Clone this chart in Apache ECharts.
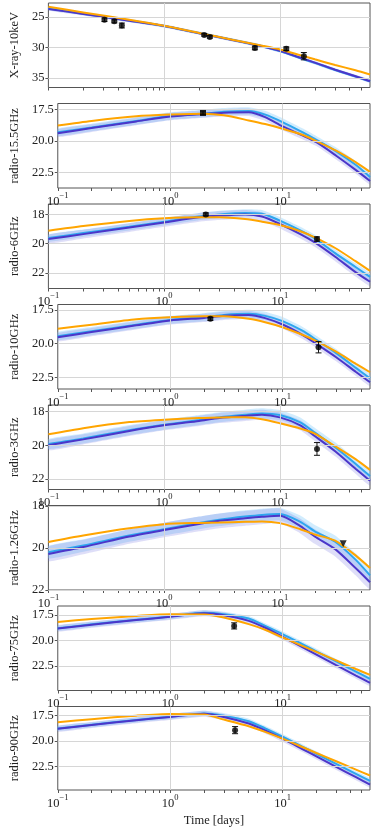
<!DOCTYPE html>
<html>
<head>
<meta charset="utf-8">
<script src="https://cdn.jsdelivr.net/npm/echarts@6/dist/echarts.min.js"></script>
<style>
  html, body { margin: 0; padding: 0; background: #fff; }
  #chart { width: 374px; height: 828px; }
</style>
</head>
<body>
<div id="chart"></div>
<script>
// model times [days]
var T = [0.1, 0.2, 0.5, 1, 2, 3, 5, 7, 10, 15, 20, 30, 45, 60];

// model light curves (mag), one value per entry of T
var xrayOrange = [23.33, 24.25, 25.45, 26.45, 27.62, 28.3, 29.17, 29.72, 30.34, 31.28, 31.96, 32.9, 33.77, 34.45];
var xrayCyan   = [23.62, 24.45, 25.58, 26.47, 27.64, 28.32, 29.2, 29.8, 30.6, 31.75, 32.55, 33.72, 34.8, 35.6];
var xrayBlue   = [23.67, 24.5, 25.62, 26.5, 27.67, 28.35, 29.22, 29.8, 30.57, 31.7, 32.5, 33.67, 34.76, 35.57];

var r155Orange = [18.76, 18.4, 18.03, 17.9, 17.83, 17.96, 18.36, 18.65, 19.02, 19.5, 20.0, 20.76, 21.69, 22.44];
var r155Cyan   = [19.3, 18.92, 18.4, 18.02, 17.82, 17.68, 17.62, 17.9, 18.49, 19.29, 19.9, 20.81, 21.9, 22.84];
var r155Blue   = [19.37, 18.97, 18.44, 18.05, 17.85, 17.75, 17.72, 18.1, 18.84, 19.55, 20.09, 21.16, 22.3, 23.16];

var r6Orange = [19.12, 18.8, 18.45, 18.27, 18.2, 18.2, 18.32, 18.5, 18.73, 19.15, 19.57, 20.3, 21.2, 21.86];
var r6Cyan   = [19.62, 19.28, 18.85, 18.5, 18.15, 18.0, 17.9, 17.95, 18.43, 19.1, 19.64, 20.65, 21.6, 22.27];
var r6Blue   = [19.69, 19.35, 18.9, 18.55, 18.2, 18.08, 18.0, 18.15, 18.66, 19.35, 19.92, 20.9, 21.95, 22.61];

var r10Orange = [18.91, 18.6, 18.2, 18.05, 17.97, 17.98, 18.17, 18.42, 18.79, 19.35, 19.82, 20.6, 21.5, 22.12];
var r10Cyan   = [19.45, 19.08, 18.6, 18.25, 18.05, 17.88, 17.8, 17.95, 18.34, 19.05, 19.72, 20.71, 21.8, 22.57];
var r10Blue   = [19.53, 19.15, 18.65, 18.29, 18.1, 17.95, 17.88, 18.12, 18.59, 19.35, 20.02, 21.01, 22.1, 22.86];

var r3Orange = [19.35, 18.98, 18.62, 18.48, 18.38, 18.34, 18.33, 18.45, 18.69, 19.0, 19.31, 20.06, 20.83, 21.47];
var r3Cyan   = [19.93, 19.6, 19.1, 18.78, 18.5, 18.33, 18.18, 18.1, 18.2, 18.64, 19.25, 20.12, 21.1, 21.84];
var r3Blue   = [20.0, 19.65, 19.15, 18.81, 18.55, 18.38, 18.25, 18.18, 18.34, 18.81, 19.45, 20.36, 21.4, 22.12];

var r126Orange = [19.71, 19.4, 19.05, 18.86, 18.8, 18.78, 18.75, 18.73, 18.81, 19.1, 19.35, 19.65, 20.35, 20.95];
var r126Cyan   = [20.2, 19.88, 19.4, 19.1, 18.8, 18.65, 18.5, 18.42, 18.38, 18.75, 19.2, 19.7, 20.55, 21.3];
var r126Blue   = [20.28, 19.95, 19.45, 19.14, 18.85, 18.7, 18.58, 18.51, 18.46, 18.95, 19.45, 20.05, 20.95, 21.63];

var r75Orange = [18.18, 17.9, 17.6, 17.43, 17.45, 17.75, 18.4, 18.95, 19.7, 20.52, 21.11, 21.94, 22.77, 23.35];
var r75Cyan   = [18.8, 18.42, 17.98, 17.66, 17.3, 17.43, 17.85, 18.57, 19.37, 20.35, 21.05, 22.04, 23.02, 23.74];
var r75Blue   = [18.82, 18.45, 18.0, 17.69, 17.34, 17.53, 18.08, 18.75, 19.63, 20.65, 21.37, 22.4, 23.42, 24.13];

var r90Orange = [18.15, 17.85, 17.5, 17.33, 17.4, 17.89, 18.54, 19.1, 19.77, 20.59, 21.18, 22.0, 22.82, 23.4];
var r90Cyan   = [18.76, 18.4, 17.92, 17.6, 17.28, 17.5, 18.05, 18.75, 19.57, 20.56, 21.26, 22.25, 23.24, 23.94];
var r90Blue   = [18.79, 18.42, 17.95, 17.63, 17.31, 17.63, 18.28, 18.95, 19.77, 20.79, 21.52, 22.55, 23.57, 24.3];

// half width of the posterior bands [cyan, blue] per panel (mag)
var bandHalfWidth = [[0.25, 0.25], [0.3, 0.3], [0.25, 0.3], [0.3, 0.3], [0.3, 0.3], [0.3, 0.35], [0.25, 0.3], [0.25, 0.3]];

// observations: [time, mag, error]
var xrayObs = [[0.305, 25.45, 0.3], [0.371, 25.72, 0.25], [0.431, 26.4, 0.4], [2.22, 27.95, 0.2],
               [2.48, 28.28, 0.2], [6.08, 30.1, 0.3], [11.35, 30.22, 0.3], [16.1, 31.45, 0.6]];
var r155Obs = [[1.96, 17.77, 0.15]];
var r6Obs   = [[2.29, 18.0, 0.1], [20.9, 19.69, 0.15]];
var r10Obs  = [[2.28, 18.17, 0.12], [20.9, 20.27, 0.42]];
var r3Obs   = [[20.9, 20.22, 0.38]];
var r126Obs = [[35.2, 19.8, 0]];
var r75Obs  = [[3.71, 18.57, 0.3]];
var r90Obs  = [[3.78, 18.93, 0.35]];

// axis ticks
var xLabelTicks = [0.1, 1, 10];
var xMinorTicks = [0.1, 0.2, 0.3, 0.4, 0.5, 0.6, 0.7, 0.8, 0.9, 1, 2, 3, 4, 5, 6, 7, 8, 9, 10, 20, 30, 40, 50];

var panels = [
  {name: 'X-ray-10keV',   min: 22.7,  max: 36.6,  ticks: [25, 30, 35],       dec: 0, o: xrayOrange, c: xrayCyan, b: xrayBlue, obs: xrayObs, sym: 'circle'},
  {name: 'radio-15.5GHz', min: 17.02, max: 23.72, ticks: [17.5, 20, 22.5],   dec: 1, o: r155Orange, c: r155Cyan, b: r155Blue, obs: r155Obs, sym: 'rect'},
  {name: 'radio-6GHz',    min: 17.29, max: 23.07, ticks: [18, 20, 22],       dec: 0, o: r6Orange, c: r6Cyan, b: r6Blue, obs: r6Obs, sym: 'circle'},
  {name: 'radio-10GHz',   min: 17.11, max: 23.36, ticks: [17.5, 20, 22.5],   dec: 1, o: r10Orange, c: r10Cyan, b: r10Blue, obs: r10Obs, sym: 'circle'},
  {name: 'radio-3GHz',    min: 17.6,  max: 22.64, ticks: [18, 20, 22],       dec: 0, o: r3Orange, c: r3Cyan, b: r3Blue, obs: r3Obs, sym: 'circle'},
  {name: 'radio-1.26GHz', min: 17.97, max: 22.0,  ticks: [18, 20, 22],       dec: 0, o: r126Orange, c: r126Cyan, b: r126Blue, obs: r126Obs, sym: 'triangle'},
  {name: 'radio-75GHz',   min: 16.63, max: 24.87, ticks: [17.5, 20, 22.5],   dec: 1, o: r75Orange, c: r75Cyan, b: r75Blue, obs: r75Obs, sym: 'circle'},
  {name: 'radio-90GHz',   min: 16.6,  max: 24.83, ticks: [17.5, 20, 22.5],   dec: 1, o: r90Orange, c: r90Cyan, b: r90Blue, obs: r90Obs, sym: 'circle'}
];

var FONT = "'Liberation Serif', 'DejaVu Serif', serif";
var ORANGE = '#ffa500', CYAN = '#2ea6ee', BLUE = '#4b36c9';
var FRAME = '#555555', GRIDC = '#d6d6d6';
var SMOOTH = 0.25;

var grids = [], xAxes = [], yAxes = [], series = [];

function pairs(vals) {
  return T.map(function (t, k) { return [t, vals[k]]; });
}

// band drawn as one polygon through the axis scales
function bandSeries(i, vals, w, color) {
  return {
    type: 'custom', xAxisIndex: i, yAxisIndex: i, z: 1, silent: true, clip: true,
    data: [[T[0], vals[0]]],
    encode: {x: 0, y: 1},
    renderItem: function (params, api) {
      var up = T.map(function (t, k) { return api.coord([t, vals[k] - w]); });
      var lo = T.map(function (t, k) { return api.coord([t, vals[k] + w]); }).reverse();
      return {type: 'polygon', shape: {points: up.concat(lo), smooth: 0.15}, style: {fill: color}};
    }
  };
}

panels.forEach(function (p, i) {
  var top = 3 + i * 100.5;
  grids.push({left: 44, right: 4, top: top, height: 84.5, show: true, borderColor: FRAME, borderWidth: 1, backgroundColor: 'transparent'});

  xAxes.push({
    type: 'log', logBase: 10, gridIndex: i, min: 0.1, max: 60,
    axisLine: {show: false},
    splitLine: {show: false},
    axisTick: {show: true, length: 3, customValues: xMinorTicks, lineStyle: {color: FRAME}},
    axisLabel: {
      show: i > 0, margin: 3, customValues: xLabelTicks,
      formatter: function (v) {
        var e = Math.round(Math.log10(v));
        return '{b|10}{s|' + (e < 0 ? '\u2212' + (-e) : e) + '}';
      },
      rich: {
        b: {fontFamily: FONT, fontSize: 12.5, color: '#222', lineHeight: 17, verticalAlign: 'bottom'},
        s: {fontFamily: FONT, fontSize: 8.5, color: '#222', lineHeight: 10, verticalAlign: 'top'}
      }
    },
    name: i === 7 ? 'Time [days]' : '',
    nameLocation: 'middle', nameGap: 24,
    nameTextStyle: {fontFamily: FONT, fontSize: 12.5, color: '#222'}
  });

  yAxes.push({
    type: 'value', gridIndex: i, inverse: true, min: p.min, max: p.max,
    axisLine: {show: false},
    splitLine: {show: false},
    axisTick: {show: true, length: 3, customValues: p.ticks, lineStyle: {color: FRAME}},
    axisLabel: {
      customValues: p.ticks, margin: 4, fontFamily: FONT, fontSize: 12.5, color: '#222',
      formatter: (function (d) { return function (v) { return v.toFixed(d); }; })(p.dec)
    },
    name: p.name, nameLocation: 'middle', nameRotate: 90, nameGap: 27,
    nameTextStyle: {fontFamily: FONT, fontSize: 12.5, color: '#222'}
  });

  var ax = {xAxisIndex: i, yAxisIndex: i};

  // grid lines
  var gl = [{xAxis: 1}, {xAxis: 10}].concat(p.ticks.map(function (v) { return {yAxis: v}; }));
  series.push(Object.assign({
    type: 'line', data: [], z: 0, silent: true,
    markLine: {silent: true, symbol: ['none', 'none'], label: {show: false}, animation: false,
               lineStyle: {color: GRIDC, width: 1, type: 'solid'}, data: gl}
  }, ax));

  // posterior bands
  series.push(bandSeries(i, p.c, bandHalfWidth[i][0], 'rgba(135,206,250,0.38)'));
  series.push(bandSeries(i, p.b, bandHalfWidth[i][1], 'rgba(105,105,225,0.22)'));

  // model lines
  [[p.c, CYAN, 2], [p.b, BLUE, 3], [p.o, ORANGE, 4]].forEach(function (ln) {
    series.push(Object.assign({
      type: 'line', data: pairs(ln[0]), symbol: 'none', smooth: SMOOTH,
      lineStyle: {color: ln[1], width: 2}, silent: true, z: ln[2]
    }, ax));
  });

  // error bars
  series.push(Object.assign({
    type: 'custom', data: p.obs, z: 5, silent: true,
    encode: {x: 0, y: 1},
    renderItem: function (params, api) {
      var t = api.value(0), v = api.value(1), e = api.value(2);
      if (!e) return null;
      var a = api.coord([t, v - e]), b = api.coord([t, v + e]);
      var style = {stroke: '#111', lineWidth: 1};
      return {type: 'group', children: [
        {type: 'line', shape: {x1: a[0], y1: a[1], x2: b[0], y2: b[1]}, style: style},
        {type: 'line', shape: {x1: a[0] - 3, y1: a[1], x2: a[0] + 3, y2: a[1]}, style: style},
        {type: 'line', shape: {x1: b[0] - 3, y1: b[1], x2: b[0] + 3, y2: b[1]}, style: style}
      ]};
    }
  }, ax));

  // points
  series.push(Object.assign({
    type: 'scatter', data: p.obs.map(function (d) { return [d[0], d[1]]; }), z: 6, silent: true,
    symbol: p.sym, symbolSize: p.sym === 'triangle' ? 7 : 6, symbolRotate: p.sym === 'triangle' ? 180 : 0,
    itemStyle: {color: '#000'}
  }, ax));
});

var chart = echarts.init(document.getElementById('chart'));
chart.setOption({
  animation: false,
  backgroundColor: '#fff',
  grid: grids,
  xAxis: xAxes,
  yAxis: yAxes,
  series: series
});
</script>
</body>
</html>
